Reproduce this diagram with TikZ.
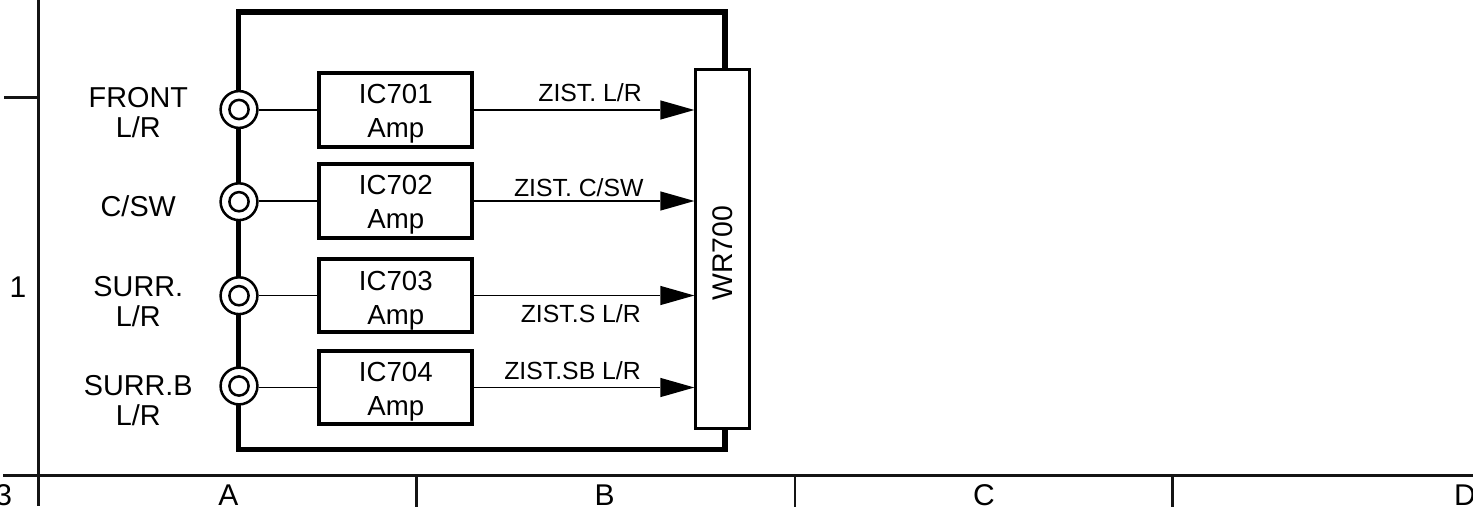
\documentclass[tikz,border=0pt]{standalone}
\usepackage{fontspec}
\setmainfont{Liberation Sans}
\usetikzlibrary{arrows.meta}
\newcommand{\amptext}[3][-8.25pt]{\smash{\raisebox{#1}{\begin{tabular}{@{}c@{}}#2\\#3\end{tabular}}}}
\tikzset{
  px/.style={x=0.75pt,y=-0.75pt},
  grid/.style={line width=1.9pt,black!92},
  frameline/.style={line width=4.1pt,line cap=butt},
  jack/.style={circle,draw,line width=1.9pt,fill=white,inner sep=0pt,minimum size=27.6pt,
    path picture={\draw[line width=1.9pt] (path picture bounding box.center) circle (7.2pt);}},
  ampbox/.style={draw,line width=3pt,fill=white,minimum width=114.8pt,minimum height=55pt,inner sep=0pt,
    font=\fontsize{20.7}{25.3}\selectfont},
  wrbox/.style={draw,line width=2.2pt,fill=white,minimum width=40pt,minimum height=269pt,inner sep=0pt,
    font=\fontsize{21.3}{25}\selectfont},
  wire/.style={line width=1pt},
  sig/.style={line width=1pt,-{Triangle[length=25.5pt,width=14.5pt,line width=0pt]},shorten >=0pt},
  inlabel/.style={align=center,inner sep=0pt,font=\fontsize{21.6}{23}\selectfont},
  siglabel/.style={inner sep=0pt,anchor=base east,font=\fontsize{18.6}{23}\selectfont},
  gridlabel/.style={inner sep=0pt,anchor=base,font=\fontsize{22.5}{26}\selectfont},
}
\begin{document}
\begin{tikzpicture}[px]
\useasboundingbox (0,0) rectangle (1473,510);
% ruler
\coordinate (g1t) at (38.5,0);
\coordinate (g1b) at (38.5,506);
\coordinate (hl) at (3,475.3);
\coordinate (hr) at (1473,475.3);
\coordinate (tl) at (4,97.7);
\coordinate (tr) at (38.5,97.7);
\coordinate (g2t) at (416.3,475.3);
\coordinate (g2b) at (416.3,507);
\coordinate (g3t) at (795,475.3);
\coordinate (g3b) at (795,507);
\coordinate (g4t) at (1172.7,475.3);
\coordinate (g4b) at (1172.7,507);
\draw[grid] (g1t) -- (g1b);
\draw[grid] (hl) -- (hr);
\draw[grid] (tl) -- (tr);
\draw[grid] (g2t) -- (g2b);
\draw[grid] (g3t) -- (g3b);
\draw[grid] (g4t) -- (g4b);
% frame
\coordinate (ftl) at (238.5,12);
\coordinate (ftr) at (725,12);
\coordinate (fbl) at (238.5,449.7);
\coordinate (fbr) at (725,449.7);
\node[wrbox] (wr) at (722.5,249.2) {\rotatebox{90}{WR700\hspace{6pt}}};
\draw[frameline] (wr.north -| ftr) -- (ftr) -- (ftl) -- (fbl) -- (fbr) -- (wr.south -| fbr);
% jacks
\node[jack] (j1) at (239,109.5) {};
\node[jack] (j2) at (239,201.7) {};
\node[jack] (j3) at (239,295.7) {};
\node[jack] (j4) at (239,386) {};
% amps
\node[ampbox] (a1) at (395.8,110) {\amptext{IC701}{Amp}};
\node[ampbox] (a2) at (395.8,201) {\amptext{IC702}{Amp}};
\node[ampbox] (a3) at (395.8,295.5) {\amptext[-9.3pt]{IC703}{Amp}};
\node[ampbox] (a4) at (395.8,387.5) {\amptext{IC704}{Amp}};
% wires
\draw[wire] (j1.east |- a1.west) -- (a1.west);
\draw[wire] (j2.east |- a2.west) -- (a2.west);
\draw[wire] (j3.east |- a3.west) -- (a3.west);
\draw[wire] (j4.east |- a4.west) -- (a4.west);
% arrows
\draw[sig] (a1.east) -- (a1.east -| wr.west);
\draw[sig] (a2.east) -- (a2.east -| wr.west);
\draw[sig] (a3.east) -- (a3.east -| wr.west);
\draw[sig] (a4.east) -- (a4.east -| wr.west);
% input labels
\node[inlabel] (lf) at (138.3,112.5) {FRONT\\L/R};
\node[inlabel] (lc) at (138.3,206.5) {C/SW};
\node[inlabel] (ls) at (138.3,301.5) {SURR.\\L/R};
\node[inlabel] (lb) at (138.3,400.5) {SURR.B\\L/R};
% signal labels
\node[siglabel] (s1) at (642,101.7) {ZIST. L/R};
\node[siglabel] (s2) at (643.8,196) {ZIST. C/SW};
\node[siglabel] (s3) at (641,322.3) {ZIST.S L/R};
\node[siglabel] (s4) at (641,379.2) {ZIST.SB L/R};
% ruler labels
\node[gridlabel] (n1) at (18,297) {1};
\node[gridlabel] (n3) at (3.8,505.5) {3};
\node[gridlabel] (ca) at (228.5,505.5) {A};
\node[gridlabel] (cb) at (604.5,505.5) {B};
\node[gridlabel] (cc) at (984,505.5) {C};
\node[gridlabel] (cd) at (1465,505.5) {D};
\end{tikzpicture}
\end{document}
